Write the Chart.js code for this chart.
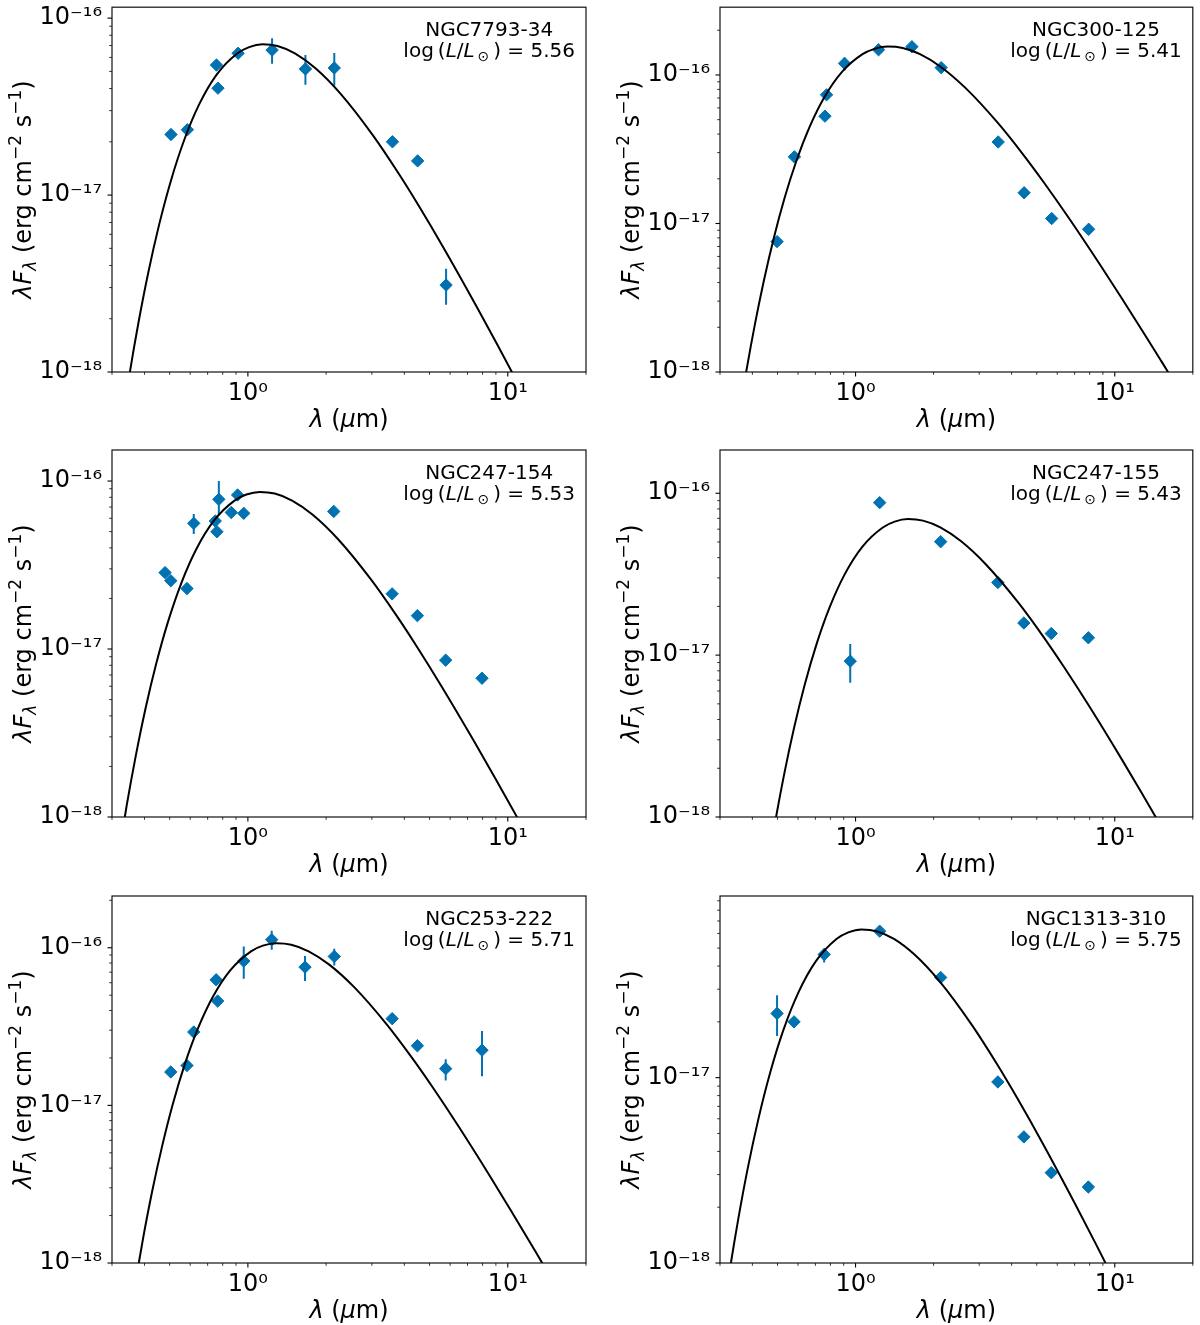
<!DOCTYPE html>
<html><head><meta charset="utf-8">
<script src="https://cdn.jsdelivr.net/npm/chart.js@4/dist/chart.umd.min.js"></script>
<style>
body{margin:0;background:#fff}
#wrap{position:relative;width:1200px;height:1325px;background:#fff}
canvas{position:absolute}
</style></head>
<body><div id="wrap"></div>
<script>
// ---------------- data ----------------
const names = ['NGC7793-34','NGC300-125','NGC247-154','NGC247-155','NGC253-222','NGC1313-310'];
const logL  = ['5.56','5.41','5.53','5.43','5.71','5.75'];
const yTop  = [1.153e-16, 2.86e-16, 1.53e-16, 1.85e-16, 2.13e-16, 9.55e-17];
const xMin = 0.3, xMax = 20, yMin = 1e-18;
const xTickVals = [0.3,0.4,0.5,0.6,0.7,0.8,0.9,1,2,3,4,5,6,7,8,9,10,20];
const yTickVals = [1e-18,2e-18,3e-18,4e-18,5e-18,6e-18,7e-18,8e-18,9e-18,
                   1e-17,2e-17,3e-17,4e-17,5e-17,6e-17,7e-17,8e-17,9e-17,
                   1e-16,2e-16,3e-16];

// Panel 1: NGC7793-34
const lam1  = [0.506,0.585,0.757,0.767,0.917,1.239,1.665,2.15,3.60,4.50,5.79];
const flux1 = [2.20e-17,2.34e-17,5.43e-17,4.02e-17,6.33e-17,6.60e-17,5.16e-17,5.23e-17,2.00e-17,1.56e-17,3.10e-18];
const lo1   = [null,null,null,null,null,5.53e-17,4.20e-17,4.16e-17,null,null,2.40e-18];
const hi1   = [null,null,null,null,null,7.69e-17,6.19e-17,6.35e-17,null,null,3.83e-18];
const fitLam1  = [0.3033,0.3250,0.3500,0.3792,0.4136,0.4550,0.5056,0.5688,0.6500,0.7583,0.9100,1.0111,1.1375,1.3000,1.5167,1.8200,2.2750,3.0333,3.7917,4.5500,5.6875,7.5833,9.1000,11.375,13.000,15.167];
const fitFlux1 = [0.0231e-17,0.0476e-17,0.0962e-17,0.1898e-17,0.3642e-17,0.6763e-17,1.2062e-17,2.0474e-17,3.2642e-17,4.7974e-17,6.3155e-17,6.8615e-17,7.1145e-17,6.9602e-17,6.3216e-17,5.2032e-17,3.7302e-17,2.1658e-17,1.3314e-17,0.8669e-17,0.4978e-17,0.2348e-17,0.1435e-17,0.0775e-17,0.0533e-17,0.0345e-17];

// Panel 2: NGC300-125
const lam2  = [0.498,0.581,0.762,0.773,0.907,1.227,1.65,2.14,3.55,4.47,5.71,7.93];
const flux2 = [7.55e-18,2.81e-17,5.28e-17,7.35e-17,1.197e-16,1.48e-16,1.55e-16,1.12e-16,3.54e-17,1.61e-17,1.08e-17,9.14e-18];
const lo2   = [null,null,null,null,1.07e-16,null,null,1.03e-16,null,null,null,null];
const hi2   = [null,null,null,null,1.31e-16,null,null,1.20e-16,null,null,null,null];
const fitLam2  = [0.3547,0.3800,0.4092,0.4433,0.4836,0.5320,0.5911,0.6650,0.7600,0.8867,1.0640,1.1822,1.3300,1.5200,1.7733,2.1280,2.6600,3.5467,4.4333,5.3200,6.6500,8.8667,10.640,13.300,15.200,17.733];
const fitFlux2 = [0.0504e-17,0.1040e-17,0.2102e-17,0.4147e-17,0.7959e-17,1.4779e-17,2.6360e-17,4.4743e-17,7.1335e-17,10.484e-17,13.802e-17,14.995e-17,15.548e-17,15.211e-17,13.815e-17,11.371e-17,8.1520e-17,4.7330e-17,2.9096e-17,1.8944e-17,1.0880e-17,0.5132e-17,0.3135e-17,0.1694e-17,0.1165e-17,0.0754e-17];

// Panel 3: NGC247-154
const lam3  = [0.480,0.505,0.583,0.619,0.749,0.760,0.773,0.863,0.913,0.964,2.14,3.59,4.49,5.77,7.96];
const flux3 = [2.85e-17,2.55e-17,2.29e-17,5.60e-17,5.78e-17,4.99e-17,7.78e-17,6.50e-17,8.26e-17,6.42e-17,6.59e-17,2.13e-17,1.58e-17,8.58e-18,6.70e-18];
const lo3   = [null,null,null,4.83e-17,null,null,6.26e-17,null,null,null,null,null,null,null,null];
const hi3   = [null,null,null,6.36e-17,null,null,1.00e-16,null,null,null,null,null,null,null,null];
const fitLam3  = [0.2960,0.3171,0.3415,0.3700,0.4036,0.4440,0.4933,0.5550,0.6343,0.7400,0.8880,0.9867,1.1100,1.2686,1.4800,1.7760,2.2200,2.9600,3.7000,4.4400,5.5500,7.4000,8.8800,11.100,12.686,14.800];
const fitFlux3 = [0.0279e-17,0.0576e-17,0.1164e-17,0.2297e-17,0.4409e-17,0.8187e-17,1.4603e-17,2.4787e-17,3.9518e-17,5.8081e-17,7.6460e-17,8.3071e-17,8.6134e-17,8.4265e-17,7.6534e-17,6.2994e-17,4.5161e-17,2.6220e-17,1.6119e-17,1.0495e-17,0.6027e-17,0.2843e-17,0.1737e-17,0.0939e-17,0.0646e-17,0.0418e-17];

// Panel 4: NGC247-155
const lam4  = [0.954,1.239,2.13,3.54,4.46,5.69,7.91];
const flux4 = [9.18e-18,8.75e-17,5.02e-17,2.81e-17,1.58e-17,1.36e-17,1.28e-17];
const lo4   = [6.75e-18,null,null,null,null,null,null];
const hi4   = [1.17e-17,null,null,null,null,null,null];
const fitLam4  = [0.4247,0.4550,0.4900,0.5308,0.5791,0.6370,0.7078,0.7963,0.9100,1.0617,1.2740,1.4156,1.5925,1.8200,2.1233,2.5480,3.1850,4.2467,5.3083,6.3700,7.9625,10.617,12.740,15.925,18.200,21.233];
const fitFlux4 = [0.0225e-17,0.0463e-17,0.0936e-17,0.1847e-17,0.3545e-17,0.6582e-17,1.1740e-17,1.9927e-17,3.1771e-17,4.6694e-17,6.1470e-17,6.6784e-17,6.9247e-17,6.7744e-17,6.1529e-17,5.0644e-17,3.6307e-17,2.1080e-17,1.2958e-17,0.8437e-17,0.4846e-17,0.2286e-17,0.1396e-17,0.0755e-17,0.0519e-17,0.0336e-17];

// Panel 5: NGC253-222
const lam5  = [0.505,0.583,0.619,0.755,0.765,0.964,1.235,1.659,2.15,3.59,4.49,5.77,7.96];
const flux5 = [1.63e-17,1.79e-17,2.92e-17,6.26e-17,4.59e-17,8.23e-17,1.125e-16,7.54e-17,8.81e-17,3.55e-17,2.39e-17,1.71e-17,2.24e-17];
const lo5   = [null,null,null,null,null,6.36e-17,9.70e-17,6.15e-17,7.73e-17,null,null,1.44e-17,1.53e-17];
const hi5   = [null,null,null,null,null,1.02e-16,1.28e-16,8.85e-17,9.86e-17,null,null,1.96e-17,2.96e-17];
const fitLam5  = [0.3427,0.3671,0.3954,0.4283,0.4673,0.5140,0.5711,0.6425,0.7343,0.8567,1.0280,1.1422,1.2850,1.4686,1.7133,2.0560,2.5700,3.4267,4.2833,5.1400,6.4250,8.5667,10.280,12.850,14.686,17.133];
const fitFlux5 = [0.0347e-17,0.0715e-17,0.1445e-17,0.2852e-17,0.5473e-17,1.0163e-17,1.8127e-17,3.0768e-17,4.9054e-17,7.2096e-17,9.4910e-17,10.312e-17,10.692e-17,10.460e-17,9.5002e-17,7.8195e-17,5.6058e-17,3.2547e-17,2.0008e-17,1.3027e-17,0.7481e-17,0.3529e-17,0.2156e-17,0.1165e-17,0.0801e-17,0.0518e-17];

// Panel 6: NGC1313-310
const lam6  = [0.498,0.579,0.757,1.239,2.13,3.54,4.46,5.69,7.91];
const flux6 = [2.22e-17,2.00e-17,4.62e-17,6.17e-17,3.47e-17,9.48e-18,4.79e-18,3.07e-18,2.57e-18];
const lo6   = [1.68e-17,null,4.18e-17,null,null,null,null,null,null];
const hi6   = [2.78e-17,null,4.97e-17,null,null,null,null,null,null];
const fitLam6  = [0.2813,0.3014,0.3246,0.3517,0.3836,0.4220,0.4689,0.5275,0.6029,0.7033,0.8440,0.9378,1.0550,1.2057,1.4067,1.6880,2.1100,2.8133,3.5167,4.2200,5.2750,7.0333,8.4400,10.550,12.057,14.067];
const fitFlux6 = [0.0205e-17,0.0422e-17,0.0852e-17,0.1682e-17,0.3228e-17,0.5993e-17,1.0690e-17,1.8144e-17,2.8928e-17,4.2516e-17,5.5970e-17,6.0810e-17,6.3051e-17,6.1683e-17,5.6025e-17,4.6113e-17,3.3059e-17,1.9194e-17,1.1799e-17,0.7682e-17,0.4412e-17,0.2081e-17,0.1272e-17,0.0687e-17,0.0473e-17,0.0306e-17];

// ---------------- layout (positions, not data) ----------------
const cells = [
  {cx:0,   cy:0,   h:440, pl:112, pr:586,  pt:5,   pb:372},
  {cx:600, cy:0,   h:440, pl:720, pr:1194, pt:5,   pb:372},
  {cx:0,   cy:440, h:445, pl:112, pr:586,  pt:450, pb:817},
  {cx:600, cy:440, h:445, pl:720, pr:1194, pt:450, pb:817},
  {cx:0,   cy:885, h:440, pl:112, pr:586,  pt:896, pb:1263},
  {cx:600, cy:885, h:440, pl:720, pr:1194, pt:896, pb:1263}
];
const BLUE = '#0072B2';
const FAM = '"DejaVu Sans", "Liberation Sans", sans-serif';
const F = (s, it) => (it ? 'italic ' : '') + s + 'px ' + FAM;

const SUP = {'0':'⁰','1':'¹','2':'²','3':'³','4':'⁴','5':'⁵','6':'⁶','7':'⁷','8':'⁸','9':'⁹','-':'⁻'};
function isDecade(v){ const l = Math.log10(v); return Math.abs(l - Math.round(l)) < 1e-6; }
function decLabel(v){
  const e = String(Math.round(Math.log10(v)));
  return '10' + e.split('').map(c => SUP[c]).join('');
}

function drawRuns(ctx, runs, x, y, align){
  let w = 0;
  runs.forEach(r => { ctx.font = r.font; r.w = ctx.measureText(r.t).width; w += r.w; });
  let cx = align === 'center' ? x - w/2 : (align === 'right' ? x - w : x);
  runs.forEach(r => { ctx.font = r.font; ctx.fillText(r.t, cx, y + (r.dy || 0)); cx += r.w; });
  return w;
}

const decorPlugin = {
  id: 'decor',
  afterDraw(chart, args, opts){
    const ctx = chart.ctx, a = chart.chartArea;
    ctx.save();
    // tick marks (major / minor) from the library scales
    ctx.strokeStyle = '#000';
    const xs = chart.scales.x, ys = chart.scales.y;
    xs.ticks.forEach(t => {
      if (t.value < xs.min || t.value > xs.max) return;
      const p = xs.getPixelForValue(t.value), maj = isDecade(t.value);
      ctx.lineWidth = maj ? 1.1 : 0.8;
      ctx.beginPath(); ctx.moveTo(p, a.bottom); ctx.lineTo(p, a.bottom + (maj ? 4.5 : 2.8)); ctx.stroke();
    });
    ys.ticks.forEach(t => {
      if (t.value < ys.min || t.value > ys.max) return;
      const p = ys.getPixelForValue(t.value), maj = isDecade(t.value);
      ctx.lineWidth = maj ? 1.1 : 0.8;
      ctx.beginPath(); ctx.moveTo(a.left, p); ctx.lineTo(a.left - (maj ? 4.5 : 2.8), p); ctx.stroke();
    });
    // frame
    ctx.lineWidth = 1.2; ctx.strokeStyle = '#111';
    ctx.strokeRect(a.left, a.top, a.right - a.left, a.bottom - a.top);
    // texts
    ctx.fillStyle = '#000'; ctx.textAlign = 'left'; ctx.textBaseline = 'alphabetic';
    // x title
    drawRuns(ctx, [
      {t:'λ', font:F(24,1)}, {t:' (', font:F(24)}, {t:'μ', font:F(24,1)}, {t:'m)', font:F(24)}
    ], (a.left + a.right)/2, a.bottom + 55, 'center');
    // y title (rotated)
    ctx.save();
    ctx.translate(a.left - 81, (a.top + a.bottom)/2);
    ctx.rotate(-Math.PI/2);
    drawRuns(ctx, [
      {t:'λ', font:F(24,1)}, {t:'F', font:F(24,1)}, {t:'λ', font:F(17,1), dy:5},
      {t:' (erg cm', font:F(24)}, {t:'−2', font:F(17), dy:-10},
      {t:' s', font:F(24)}, {t:'−1', font:F(17), dy:-10}, {t:')', font:F(24)}
    ], 0, 0, 'center');
    ctx.restore();
    // annotation
    const w2 = drawRuns(ctx, [
      {t:'log\u2009(', font:F(20)}, {t:'L', font:F(20,1)}, {t:'/', font:F(20)},
      {t:'L', font:F(20,1)}, {t:'\u2009⊙', font:F(14), dy:4}, {t:'\u2009)', font:F(20)},
      {t:' = ' + opts.logL, font:F(20)}
    ], a.right - 11, a.top + 50, 'right');
    drawRuns(ctx, [{t:opts.name, font:F(20)}], a.right - 11 - w2/2, a.top + 29, 'center');
    ctx.restore();
  }
};

const lams   = [lam1,lam2,lam3,lam4,lam5,lam6];
const fluxes = [flux1,flux2,flux3,flux4,flux5,flux6];
const los    = [lo1,lo2,lo3,lo4,lo5,lo6];
const his    = [hi1,hi2,hi3,hi4,hi5,hi6];
const fitLams  = [fitLam1,fitLam2,fitLam3,fitLam4,fitLam5,fitLam6];
const fitFluxs = [fitFlux1,fitFlux2,fitFlux3,fitFlux4,fitFlux5,fitFlux6];

const wrap = document.getElementById('wrap');
cells.forEach((c, i) => {
  const cv = document.createElement('canvas');
  cv.width = 600; cv.height = c.h;
  cv.style.left = c.cx + 'px'; cv.style.top = c.cy + 'px';
  cv.style.width = '600px'; cv.style.height = c.h + 'px';
  wrap.appendChild(cv);

  const pts = lams[i].map((x, k) => ({x, y: fluxes[i][k]}));
  const err = [];
  lams[i].forEach((x, k) => {
    if (los[i][k] != null) err.push({x, y: los[i][k]}, {x, y: his[i][k]}, {x, y: null});
  });
  const fit = fitLams[i].map((x, k) => ({x, y: fitFluxs[i][k]}));
  const yTicks = yTickVals.filter(v => v <= yTop[i] * 1.0001);

  new Chart(cv, {
    type: 'scatter',
    data: { datasets: [
      { type:'line', data: fit, borderColor:'#000', borderWidth:2, pointRadius:0,
        cubicInterpolationMode:'monotone', fill:false, order:0 },
      { type:'line', data: err, borderColor:BLUE, borderWidth:2, pointRadius:0,
        spanGaps:false, fill:false, order:2 },
      { data: pts, pointStyle:'rectRot', pointRadius:6.2, backgroundColor:BLUE,
        borderColor:BLUE, borderWidth:1, order:1 }
    ]},
    options: {
      responsive:false, animation:false, events:[],
      layout: { padding: { left:0, top: c.pt - c.cy, right: c.cx + 600 - c.pr, bottom:0 } },
      plugins: { legend:{display:false}, tooltip:{enabled:false}, decor:{ name:names[i], logL:logL[i] } },
      scales: {
        x: { type:'logarithmic', position:'bottom', min:xMin, max:xMax, bounds:'data',
             afterBuildTicks: ax => { ax.ticks = xTickVals.map(v => ({value:v, major:isDecade(v)})); },
             afterFit: ax => { ax.height = c.cy + c.h - c.pb; ax.paddingLeft = 0; ax.paddingRight = 0; },
             ticks: { autoSkip:false, maxRotation:0, minRotation:0, padding:7, color:'#000',
                      font:{family:FAM, size:24}, callback: v => isDecade(v) ? decLabel(v) : '' },
             grid: { display:false, drawTicks:false }, border:{display:false} },
        y: { type:'logarithmic', position:'left', min:yMin, max:yTop[i], bounds:'data',
             afterBuildTicks: ax => { ax.ticks = yTicks.map(v => ({value:v, major:isDecade(v)})); },
             afterFit: ax => { ax.width = c.pl - c.cx; ax.paddingTop = 0; ax.paddingBottom = 0; },
             ticks: { autoSkip:false, padding:10, color:'#000',
                      font:{family:FAM, size:24}, callback: v => isDecade(v) ? decLabel(v) : '' },
             grid: { display:false, drawTicks:false }, border:{display:false} }
      }
    },
    plugins: [decorPlugin]
  });
});
</script>
</body></html>
